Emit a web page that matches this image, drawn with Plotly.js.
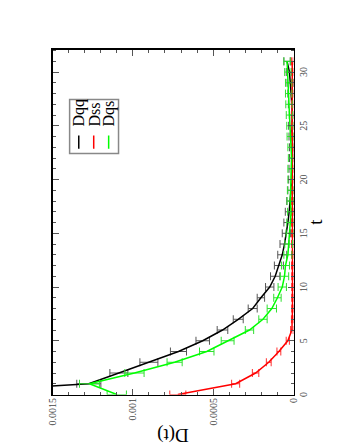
<!DOCTYPE html>
<html>
<head>
<meta charset="utf-8">
<script src="https://cdn.plot.ly/plotly-3.0.1.min.js"></script>
<style>
  html, body { margin: 0; padding: 0; width: 345px; height: 446px; overflow: hidden; background: #fff; }
  /* the original figure is drawn landscape and turned a quarter turn */
  #plot { position: absolute; left: -50.5px; top: 50.5px; width: 446px; height: 345px; transform: rotate(-90deg); }
</style>
</head>
<body>
<div id="plot"></div>
<script>
// time slices
var t = [0, 1, 2, 3, 4, 5, 6, 7, 8, 9, 10, 11, 12, 13, 14, 15,
         16, 17, 18, 19, 20, 21, 22, 23, 24, 25, 26, 27, 28, 29, 30, 31];

// Dqq
var dqq = [0.0024, 0.001274, 0.001087, 0.0009, 0.000716, 0.000565, 0.000442, 0.000344,
           0.000254, 0.000203, 0.000148, 0.000114, 0.000091, 0.00007, 0.000056, 0.000044,
           0.000035, 0.000027, 0.00002, 0.000015, 0.00001, 0.000008, 0.000005, 0.000005,
           0.000008, 0.00001, 0.000006, 0.000012, 0.000015, 0.00002, 0.000025, 0.00004];
var dqqErr = [0.0001, 0.000075, 0.000056, 0.000056, 0.00005, 0.000042, 0.000033, 0.000031,
              0.000028, 0.000023, 0.000026, 0.000029, 0.000028, 0.000028, 0.000028, 0.000026,
              0.000025, 0.000024, 0.000022, 0.00002, 0.00002, 0.00002, 0.00002, 0.00002,
              0.00002, 0.00002, 0.00002, 0.00002, 0.00002, 0.00002, 0.00002, 0.00002];

// Dss
var dss = [0.00072, 0.00036, 0.000236, 0.000154, 0.000091, 0.0000355, 0.00001, 0.000007,
           0.000006, 0.000006, 0.000006, 0.000006, 0.000007, 0.000007, 0.000007, 0.000007,
           0.000007, 0.000008, 0.000008, 0.000008, 0.000008, 0.000008, 0.000008, 0.000008,
           0.000008, 0.000008, 0.000008, 0.000008, 0.000008, 0.000008, 0.000008, 0.000008];
var dssErr = [0.00005, 0.000025, 0.00002, 0.000015, 0.000012, 0.00001, 0.000008, 0.000006,
              0.000005, 0.000005, 0.000005, 0.000005, 0.000005, 0.000005, 0.000005, 0.000005,
              0.000005, 0.000005, 0.000005, 0.000005, 0.000005, 0.000005, 0.000005, 0.000005,
              0.000005, 0.000005, 0.000005, 0.000005, 0.000005, 0.000005, 0.000005, 0.000005];

// Dqs
var dqs = [0.0011, 0.00127, 0.00099, 0.00074, 0.00054, 0.00041, 0.000274, 0.00019,
           0.000135, 0.0001, 0.00007, 0.000056, 0.00005, 0.000035, 0.00003, 0.000023,
           0.00002, 0.000015, 0.00002, 0.000018, 0.000015, 0.000015, 0.000012, 0.000015,
           0.00002, 0.000022, 0.000025, 0.000028, 0.00003, 0.00003, 0.000035, 0.00004];
var dqsErr = [0.00006, 0.000062, 0.00006, 0.000047, 0.000045, 0.00004, 0.000026, 0.000026,
              0.000029, 0.000023, 0.000026, 0.000026, 0.000025, 0.000025, 0.000024, 0.000023,
              0.000022, 0.000022, 0.00002, 0.00002, 0.00002, 0.00002, 0.00002, 0.00002,
              0.00002, 0.00002, 0.00002, 0.00002, 0.00002, 0.00002, 0.00002, 0.00002];

var names = ["Dqq", "Dss", "Dqs"];
var colors = ["#000000", "#ff0000", "#00ff00"];
var barColors = ["#555555", "#ff3030", "#30e030"];
var series = [dqq, dss, dqs];
var errors = [dqqErr, dssErr, dqsErr];

var serif = "Liberation Serif, Times New Roman, serif";

var data = [];
for (var i = 0; i < series.length; i++) {
  data.push({
    x: t,
    y: series[i],
    type: "scatter",
    mode: "lines",
    name: names[i],
    line: { color: colors[i], width: 1.5 },
    error_y: { type: "data", array: errors[i], visible: true,
               color: barColors[i], thickness: 1, width: 4 }
  });
}

// hand-built legend box (the original has a tight, short-sample legend)
var rowY = [0.891, 0.829, 0.767];
var shapes = [{
  type: "rect", xref: "paper", yref: "paper",
  x0: 0.6986, x1: 0.855, y0: 0.726, y1: 0.929,
  line: { color: "#888888", width: 1.5 }
}];
var annotations = [];
for (var k = 0; k < names.length; k++) {
  shapes.push({
    type: "line", xref: "paper", yref: "paper",
    x0: 0.712, x1: 0.751, y0: rowY[k], y1: rowY[k],
    line: { color: colors[k], width: 1.5 }
  });
  annotations.push({
    xref: "paper", yref: "paper", x: 0.77, y: rowY[k],
    xanchor: "left", yanchor: "middle", showarrow: false,
    text: names[k], font: { family: serif, size: 16, color: "#000" }
  });
}

var layout = {
  width: 446,
  height: 345,
  margin: { l: 52, r: 49, t: 52, b: 52 },
  showlegend: false,
  paper_bgcolor: "#fff",
  plot_bgcolor: "#fff",
  xaxis: {
    range: [0, 32.1], tick0: 0, dtick: 5,
    ticks: "inside", ticklen: 6, tickwidth: 1, tickcolor: "#555",
    minor: { tick0: 0, dtick: 1, ticks: "inside", ticklen: 3, tickcolor: "#555", showgrid: false },
    mirror: "allticks", showline: true, linecolor: "#000", linewidth: 1.5,
    showgrid: false, zeroline: false,
    tickfont: { family: serif, size: 10, color: "#444" },
    title: { text: "t", font: { family: serif, size: 19, color: "#000" }, standoff: 0 }
  },
  yaxis: {
    range: [0, 0.0015], tick0: 0, dtick: 0.0005, tickformat: "~g",
    ticks: "inside", ticklen: 6, tickwidth: 1, tickcolor: "#555",
    minor: { tick0: 0, dtick: 0.0001, ticks: "inside", ticklen: 3, tickcolor: "#555", showgrid: false },
    mirror: "allticks", showline: true, linecolor: "#000", linewidth: 1.5,
    showgrid: false, zeroline: false,
    tickfont: { family: serif, size: 10, color: "#444" },
    title: { text: "D(t)", font: { family: serif, size: 19, color: "#000" }, standoff: 5 }
  },
  shapes: shapes,
  annotations: annotations
};

Plotly.newPlot("plot", data, layout, { staticPlot: true, displayModeBar: false });
</script>
</body>
</html>
